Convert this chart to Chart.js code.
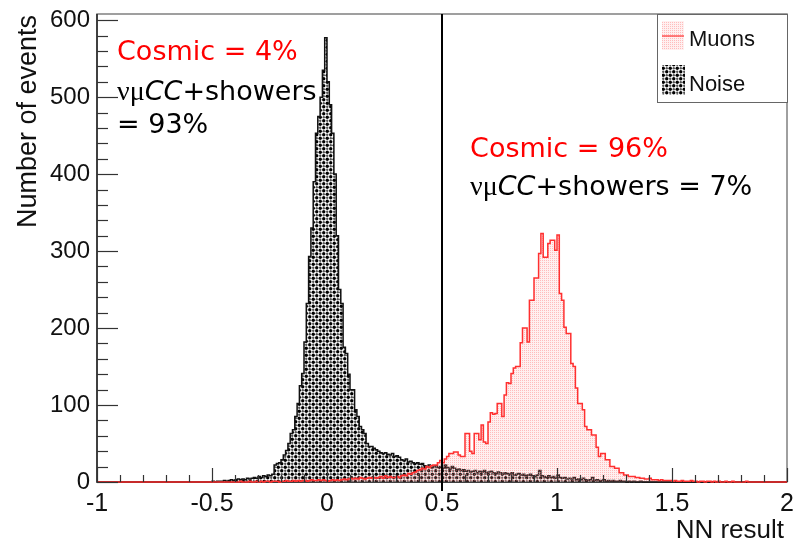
<!DOCTYPE html>
<html>
<head>
<meta charset="utf-8">
<script src="https://cdn.jsdelivr.net/npm/chart.js@4.4.0/dist/chart.umd.min.js"></script>
<style>
  html, body { margin: 0; padding: 0; background: #fff; }
  #wrap { width: 794px; height: 540px; }
</style>
</head>
<body>
<div id="wrap"><canvas id="nnChart" width="794" height="540"></canvas></div>
<script>
// histogram binning (NN result), one row = 0.1
const xMin = -1, xMax = 2, binWidth = 0.01;
const yMax = 608;
const xTicks = [-1, -0.5, 0, 0.5, 1, 1.5, 2];
const yTicks = [0, 100, 200, 300, 400, 500, 600];
const cutValue = 0.5;

const noiseCounts = [
  0,0,0,0,0,0,0,0,0,0,            // -1.0
  0,0,0,0,0,0,0,0,0,0,            // -0.9
  0,0,0,0,0,0,0,0,0,0,            // -0.8
  0,0,0,0,0,0,0,0,0,0,            // -0.7
  0,0,0,0,0,0,0,0,0,0,            // -0.6
  0,1,0,1,1,1,2,1,2,3,            // -0.5
  2,3,4,3,4,3,5,4,5,6,            // -0.4
  5,7,6,8,7,9,8,10,22,24,         // -0.3
  25,29,35,41,50,63,68,85,102,125,        // -0.2
  141,182,232,293,330,390,453,475,500,535, // -0.1
  577,520,490,453,400,320,250,232,175,167, // 0.0
  140,120,120,94,85,72,68,63,50,46,  // 0.1
  46,44,42,40,38,37,38,36,35,37,     // 0.2
  33,34,32,29,28,30,26,27,25,24,     // 0.3
  25,23,24,21,20,22,19,20,21,19,     // 0.4
  20,18,22,19,17,20,18,16,17,15,     // 0.5
  16,14,15,13,14,15,12,14,13,15,     // 0.6
  12,13,14,12,11,13,12,10,12,11,     // 0.7
  10,12,9,10,11,9,10,8,9,10,         // 0.8
  8,7,9,15,8,7,6,8,6,7,              // 0.9
  5,9,6,5,6,4,5,4,6,3,               // 1.0
  4,3,5,3,2,3,6,2,3,2,               // 1.1
  2,3,1,2,1,2,1,1,2,1,               // 1.2
  1,0,1,0,1,0,0,1,0,0,               // 1.3
  0,0,0,0,0,0,0,0,0,0,               // 1.4
  0,0,0,0,0,0,0,0,0,0,               // 1.5
  0,0,0,0,0,0,0,0,0,0,               // 1.6
  0,0,0,0,0,0,0,0,0,0,               // 1.7
  0,0,0,0,0,0,0,0,0,0,               // 1.8
  0,0,0,0,0,0,0,0,0,0                // 1.9
];

const muonCounts = [
  0,0,0,0,0,0,0,0,0,0,            // -1.0
  0,0,0,0,0,0,0,0,0,0,            // -0.9
  0,0,0,0,0,0,0,0,0,0,            // -0.8
  0,0,0,0,0,0,0,0,0,0,            // -0.7
  0,0,0,0,0,0,0,0,0,0,            // -0.6
  0,0,0,0,0,0,0,0,0,0,            // -0.5
  0,0,0,1,0,0,0,1,0,0,            // -0.4
  1,0,1,0,1,1,0,1,1,1,            // -0.3
  0,1,1,2,1,1,2,1,2,1,            // -0.2
  2,2,1,2,3,2,2,3,2,3,            // -0.1
  2,1,2,3,2,3,2,3,4,3,            // 0.0
  4,5,4,5,4,6,5,4,5,6,            // 0.1
  5,6,5,6,7,5,8,6,7,6,            // 0.2
  6,7,6,8,9,8,11,10,12,13,        // 0.3
  15,16,18,17,20,19,21,22,22,25,  // 0.4
  28,25,30,33,37,37,39,39,35,33,  // 0.5
  33,63,63,40,37,63,63,55,74,52,  // 0.6
  50,78,90,88,89,102,102,85,113,129,      // 0.7
  128,141,148,150,150,181,200,200,182,236, // 0.8
  236,265,265,297,323,292,292,310,314,314, // 0.9
  301,321,245,236,201,193,193,154,150,122, // 1.0
  102,102,94,72,68,68,61,61,45,33,  // 1.1
  37,37,29,29,20,20,18,18,12,12,    // 1.2
  9,9,7,7,7,6,6,5,5,4,              // 1.3
  4,5,3,3,3,2,3,2,2,2,              // 1.4
  2,1,2,1,1,2,1,1,1,2,              // 1.5
  1,1,0,1,1,0,1,1,0,1,              // 1.6
  0,1,0,0,1,0,0,1,0,0,              // 1.7
  0,0,0,1,0,0,0,0,0,0,              // 1.8
  0,0,0,0,0,0,0,0,0,0               // 1.9
];

const seriesNames = ['Muons', 'Noise'];
const xTitle = 'NN result';
const yTitle = 'Number of events';

// notes: [x, y, color, pieces]
const notes = [
  [-0.913, 548, '#ff0000', [['Cosmic = 4%', 'n']]],
  [-0.913, 496, '#000', [['\u03bd\u03bc', 's'], ['CC', 'i'], ['+showers', 'n']]],
  [-0.913, 453, '#000', [['= 93%', 'n']]],
  [0.622, 422, '#ff0000', [['Cosmic = 96%', 'n']]],
  [0.622, 373, '#000', [['\u03bd\u03bc', 's'], ['CC', 'i'], ['+showers = 7%', 'n']]]
];

function toSteps(counts) {
  const pts = counts.map((c, i) => ({ x: xMin + i * binWidth, y: c }));
  pts.push({ x: xMax, y: counts[counts.length - 1] });
  return pts;
}

// fill patterns like ROOT fill styles
function noisePattern(ctx) {
  const t = document.createElement('canvas');
  t.width = 7; t.height = 7;
  const c = t.getContext('2d');
  c.fillStyle = '#fff';
  c.fillRect(0, 0, 7, 7);
  c.fillStyle = '#555';
  [[5.25, 1.75], [1.75, 5.25]].forEach(p => { c.beginPath(); c.arc(p[0], p[1], 1.2, 0, Math.PI * 2); c.fill(); });
  c.fillStyle = '#000';
  [[1.75, 1.75], [5.25, 5.25]].forEach(p => { c.beginPath(); c.arc(p[0], p[1], 1.7, 0, Math.PI * 2); c.fill(); });
  return ctx.createPattern(t, 'repeat');
}

function muonPattern(ctx) {
  const t = document.createElement('canvas');
  t.width = 2; t.height = 2;
  const c = t.getContext('2d');
  c.fillStyle = 'rgba(255,170,170,0.18)';
  c.fillRect(0, 0, 2, 2);
  c.fillStyle = 'rgba(255,110,110,0.4)';
  c.fillRect(0, 0, 1, 1);
  return ctx.createPattern(t, 'repeat');
}

const ctx = document.getElementById('nnChart').getContext('2d');
const noiseFill = noisePattern(ctx);
const muonFill = muonPattern(ctx);

const rootFrame = {
  id: 'rootFrame',
  beforeDatasetsDraw(chart) {
    const { ctx, chartArea: a } = chart;
    ctx.save();
    ctx.strokeStyle = '#808080';
    ctx.lineWidth = 1.5;
    ctx.strokeRect(a.left, a.top, a.right - a.left, a.bottom - a.top);
    ctx.strokeStyle = '#222';
    ctx.beginPath();
    ctx.moveTo(a.left, a.top);
    ctx.lineTo(a.left, a.bottom);
    ctx.lineTo(a.right, a.bottom);
    ctx.stroke();
    ctx.restore();
  },
  afterDatasetsDraw(chart) {
    const { ctx, chartArea: a, scales: { x, y } } = chart;
    ctx.save();
    ctx.strokeStyle = '#333';
    ctx.lineWidth = 1.2;
    // y ticks (inside)
    for (let v = 0; v <= 600; v += 20) {
      const py = Math.round(y.getPixelForValue(v)) + 0.5;
      const len = v % 100 === 0 ? 21 : 11;
      ctx.beginPath(); ctx.moveTo(a.left, py); ctx.lineTo(a.left + len, py); ctx.stroke();
    }
    // x ticks (inside)
    for (let k = 0; k <= 30; k++) {
      const v = xMin + k * 0.1;
      const px = Math.round(x.getPixelForValue(v)) + 0.5;
      const len = k % 5 === 0 ? 14 : 7;
      ctx.beginPath(); ctx.moveTo(px, a.bottom); ctx.lineTo(px, a.bottom - len); ctx.stroke();
    }
    // cut line
    const cx = x.getPixelForValue(cutValue);
    ctx.strokeStyle = '#000';
    ctx.lineWidth = 2;
    ctx.beginPath(); ctx.moveTo(cx, a.top); ctx.lineTo(cx, a.bottom + 9); ctx.stroke();

    // legend box
    const lx = 657, ly = a.top, lw = a.right - lx, lh = 88;
    ctx.fillStyle = '#fff';
    ctx.fillRect(lx, ly, lw, lh);
    ctx.strokeStyle = '#666';
    ctx.lineWidth = 1;
    ctx.strokeRect(lx + 0.5, ly + 0.5, lw, lh);
    ctx.fillStyle = muonFill;
    ctx.fillRect(662, 21, 22, 29);
    ctx.strokeStyle = '#ff3030';
    ctx.lineWidth = 1.2;
    ctx.beginPath(); ctx.moveTo(662, 36); ctx.lineTo(684, 36); ctx.stroke();
    ctx.fillStyle = noiseFill;
    ctx.fillRect(662, 65, 23, 30);
    ctx.fillStyle = '#111';
    ctx.font = '22px "Liberation Sans", Arial, sans-serif';
    ctx.textBaseline = 'alphabetic';
    ctx.textAlign = 'left';
    ctx.fillText(seriesNames[0], 689, 46);
    ctx.fillText(seriesNames[1], 689, 91);

    // notes
    notes.forEach(([nx, ny, color, pieces]) => {
      let px = x.getPixelForValue(nx);
      const py = y.getPixelForValue(ny);
      ctx.fillStyle = color;
      pieces.forEach(([txt, st]) => {
        if (st === 's') ctx.font = '28px "Liberation Serif", serif';
        else if (st === 'i') ctx.font = 'oblique 27px "DejaVu Sans", sans-serif';
        else ctx.font = '27px "DejaVu Sans", sans-serif';
        ctx.fillText(txt, px, py);
        px += ctx.measureText(txt).width;
      });
    });

    // axis titles
    ctx.fillStyle = '#111';
    ctx.font = '26px "Liberation Sans", Arial, sans-serif';
    ctx.textAlign = 'right';
    ctx.fillText(xTitle, a.right - 3, 538);
    ctx.save();
    ctx.translate(36, a.top + 1);
    ctx.rotate(-Math.PI / 2);
    ctx.font = '27px "Liberation Sans", Arial, sans-serif';
    ctx.textAlign = 'right';
    ctx.fillText(yTitle, 0, 0);
    ctx.restore();
    ctx.restore();
  }
};

new Chart(ctx, {
  type: 'line',
  data: {
    datasets: [{
      label: seriesNames[0],
      data: toSteps(muonCounts),
      stepped: 'after',
      borderColor: '#ff3030',
      borderWidth: 1.5,
      backgroundColor: muonFill,
      fill: 'origin',
      pointRadius: 0,
      clip: false
    }, {
      label: seriesNames[1],
      data: toSteps(noiseCounts),
      stepped: 'after',
      borderColor: '#111',
      borderWidth: 1.5,
      backgroundColor: noiseFill,
      fill: 'origin',
      pointRadius: 0,
      clip: false
    }]
  },
  options: {
    responsive: false,
    animation: false,
    layout: { padding: { top: 14, right: 7, left: 0, bottom: 0 } },
    plugins: { legend: { display: false }, tooltip: { enabled: false } },
    scales: {
      x: {
        type: 'linear',
        min: xMin,
        max: xMax,
        grid: { display: false, drawTicks: false },
        border: { display: false },
        afterBuildTicks(scale) { scale.ticks = xTicks.map(v => ({ value: v })); },
        ticks: {
          padding: 7,
          color: '#111',
          font: { family: '"Liberation Sans", Arial, sans-serif', size: 25 },
          maxRotation: 0,
          autoSkip: false,
          callback: v => String(v)
        },
        afterFit(scale) { scale.height = 58; scale.paddingLeft = 0; scale.paddingRight = 0; }
      },
      y: {
        min: 0,
        max: yMax,
        grid: { display: false, drawTicks: false },
        border: { display: false },
        afterBuildTicks(scale) { scale.ticks = yTicks.map(v => ({ value: v })); },
        ticks: {
          padding: 7,
          color: '#111',
          autoSkip: false,
          font: { family: '"Liberation Sans", Arial, sans-serif', size: 24 },
          callback: v => String(v)
        },
        afterFit(scale) { scale.width = 97; scale.paddingTop = 0; scale.paddingBottom = 0; }
      }
    }
  },
  plugins: [rootFrame]
});
</script>
</body>
</html>
